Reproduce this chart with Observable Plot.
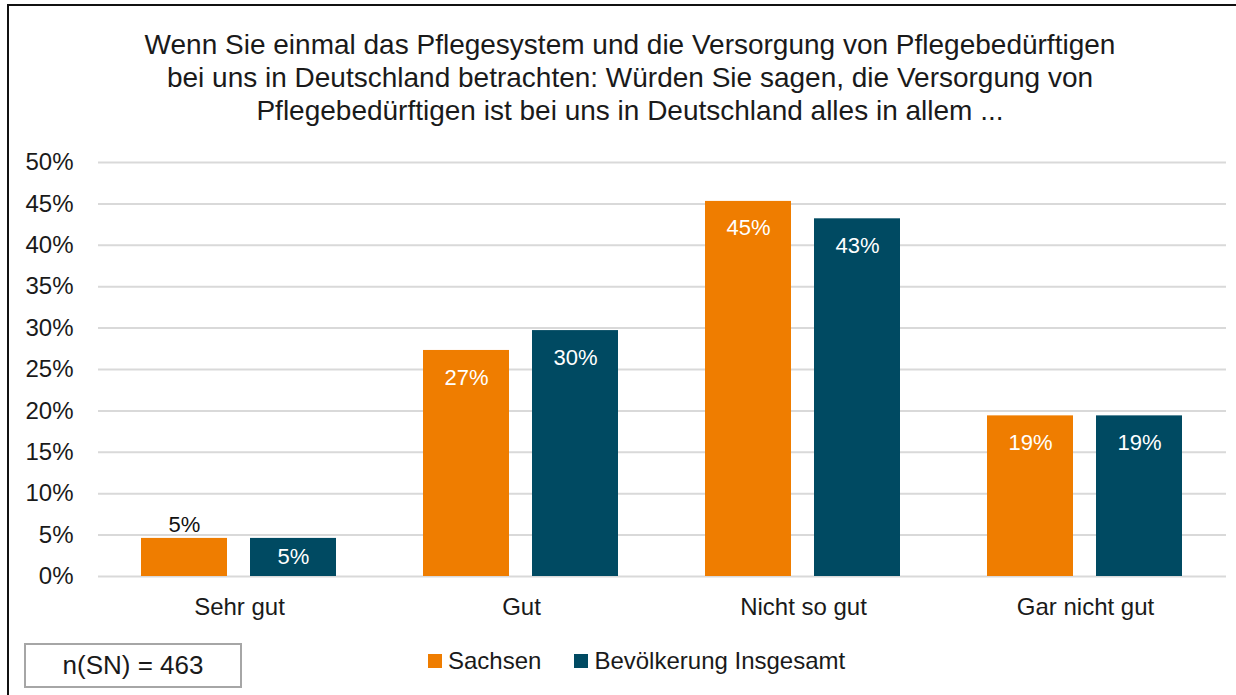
<!DOCTYPE html>
<html><head><meta charset="utf-8">
<script src="https://cdn.jsdelivr.net/npm/d3@7"></script>
<script src="https://cdn.jsdelivr.net/npm/@observablehq/plot@0.6"></script>
<style>
html,body{margin:0;padding:0;background:#fff;width:1236px;height:695px;overflow:hidden;}
body{font-family:"Liberation Sans",Arial,sans-serif;color:#1a1a1a;position:relative;}
#frame{position:absolute;left:7px;top:4px;width:1250px;height:720px;border-left:2px solid #111;border-top:2px solid #111;box-sizing:border-box;}
#title{position:absolute;left:30px;width:1200px;top:28px;text-align:center;font-size:28px;line-height:33px;color:#1a1a1a;}
#chart{position:absolute;left:0;top:140px;}
#legend{position:absolute;left:428px;top:647px;display:flex;align-items:center;font-size:24px;color:#1a1a1a;}
.item{display:flex;align-items:center;margin-right:33px;}
.sw{width:14px;height:14px;margin-right:6px;}
#nbox{position:absolute;left:24px;top:643px;width:218px;height:45px;box-sizing:border-box;border:2px solid #a6a6a6;font-size:26px;display:flex;align-items:center;justify-content:center;color:#1a1a1a;}
</style></head>
<body>
<div id="frame"></div>
<div id="title">Wenn Sie einmal das Pflegesystem und die Versorgung von Pflegebedürftigen<br>bei uns in Deutschland betrachten: Würden Sie sagen, die Versorgung von<br>Pflegebedürftigen ist bei uns in Deutschland alles in allem ...</div>
<div id="chart"></div>
<div id="legend"></div>
<div id="nbox">n(SN) = 463</div>
<script>
const categories = ["Sehr gut", "Gut", "Nicht so gut", "Gar nicht gut"];
const series = ["Sachsen", "Bevölkerung Insgesamt"];
const sachsen = [4.6, 27.3, 45.3, 19.4];
const gesamt = [4.6, 29.7, 43.2, 19.4];
const yTicks = [0, 5, 10, 15, 20, 25, 30, 35, 40, 45, 50];
const colors = ["#EF7D00", "#004A62"];

const rows = [];
categories.forEach((c, i) => {
  rows.push({category: c, series: series[0], value: sachsen[i]});
  rows.push({category: c, series: series[1], value: gesamt[i]});
});
const lbl = d => Math.round(d.value) + "%";
const big = rows.filter(d => d.value >= 10);
const smallS = rows.filter(d => d.value < 10 && d.series === series[0]);
const smallG = rows.filter(d => d.value < 10 && d.series === series[1]);

const chart = Plot.plot({
  width: 1236,
  height: 490,
  marginTop: 22,
  marginBottom: 54,
  marginLeft: 98,
  marginRight: 10,
  style: {fontFamily: '"Liberation Sans", Arial, sans-serif', fontSize: "24px", color: "#1a1a1a", background: "transparent"},
  fx: {domain: categories, padding: 0, axis: "bottom", label: null, tickSize: 0, tickPadding: 21},
  x: {domain: series, paddingInner: 0.211, paddingOuter: 0.399, axis: null},
  y: {domain: [0, 50], ticks: yTicks, tickFormat: d => d + "%", label: null, tickSize: 0, tickPadding: 25},
  color: {domain: series, range: colors},
  marks: [
    Plot.ruleY(yTicks, {y: d => d, stroke: "#d9d9d9", strokeWidth: 2}),
    Plot.barY(rows, {fx: "category", x: "series", y: "value", fill: "series"}),
    Plot.text(big, {fx: "category", x: "series", y: "value", text: lbl, fill: "white", dy: 27, fontSize: 22, fontWeight: 500}),
    Plot.text(smallS, {fx: "category", x: "series", y: "value", text: lbl, fill: "#111", dy: -13, fontSize: 22, fontWeight: 500}),
    Plot.text(smallG, {fx: "category", x: "series", y: "value", text: lbl, fill: "white", dy: 19, fontSize: 22, fontWeight: 500})
  ]
});
document.getElementById("chart").appendChild(chart);

const legend = document.getElementById("legend");
series.forEach((s, i) => {
  const it = document.createElement("div");
  it.className = "item";
  const sw = document.createElement("div");
  sw.className = "sw";
  sw.style.background = colors[i];
  const t = document.createElement("span");
  t.textContent = s;
  it.appendChild(sw); it.appendChild(t);
  legend.appendChild(it);
});
</script>
</body></html>
